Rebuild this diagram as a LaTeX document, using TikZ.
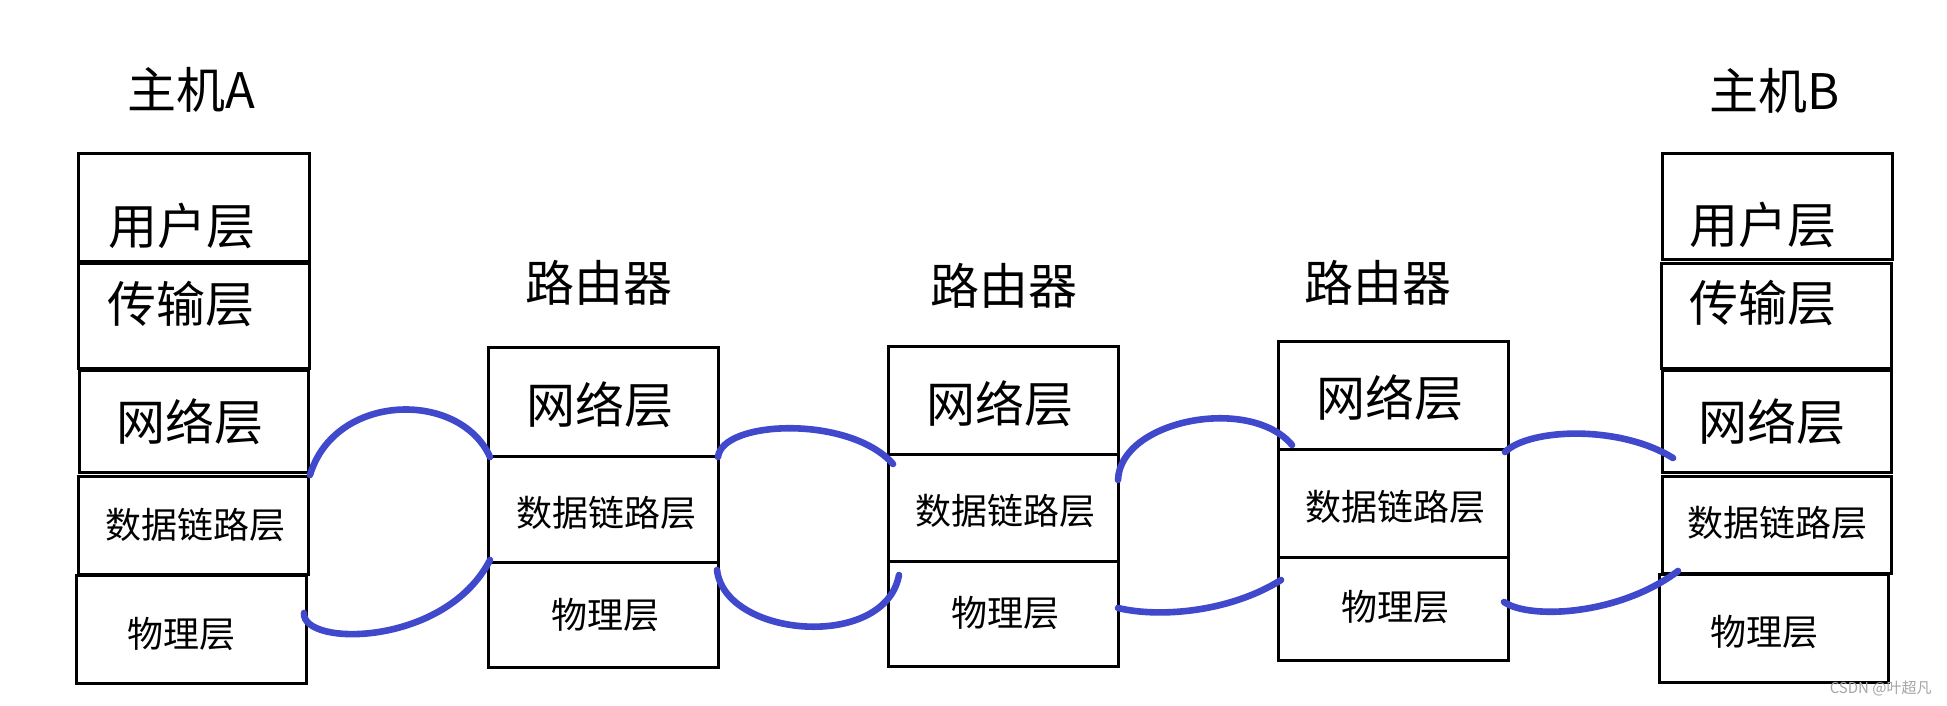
\documentclass[tikz,border=0pt]{standalone}
\usepackage{fontspec}
\newfontfamily\cjk{Noto Sans CJK SC}
\usetikzlibrary{fit,calc}
\definecolor{pen}{RGB}{64,72,204}
\definecolor{wmgray}{RGB}{165,165,165}
\tikzset{
  layer/.style={draw=black, line width=1.5pt, inner sep=0pt, outer sep=0pt},
  bigtxt/.style={font=\cjk\fontsize{24.5pt}{26pt}\selectfont, inner sep=0pt},
  smalltxt/.style={font=\cjk\fontsize{18pt}{20pt}\selectfont, inner sep=0pt},
  ttl/.style={font=\cjk\fontsize{24.5pt}{26pt}\selectfont, inner sep=0pt},
  wmark/.style={font=\cjk\fontsize{7.5pt}{9pt}\selectfont, text=wmgray, inner sep=0pt},
  link/.style={draw=pen, line width=3.3pt, line cap=round}
}
\begin{document}
\begin{tikzpicture}[x=0.5pt,y=-0.5pt]
\fill[white] (0,0) rectangle (1947,706);
\useasboundingbox (0,0) rectangle (1947,706);

% titles
\node[ttl] (tA) at (191.5,89.5) {主机A};
\node[ttl] (tB) at (1774.5,91) {主机B};
\node[ttl] (tR1) at (599,283) {路由器};
\node[ttl] (tR2) at (1004,286) {路由器};
\node[ttl] (tR3) at (1378,283) {路由器};

% host A
\node[layer, fit={(78,153) (309,261)}] (a1) {};
\node[layer, fit={(78,263) (309,368)}] (a2) {};
\node[layer, fit={(79,370) (308,472)}] (a3) {};
\node[layer, fit={(78,476) (308,574)}] (a4) {};
\node[layer, fit={(76,575) (306,683)}] (a5) {};
\node[bigtxt] (a1t) at (182,226) {用户层};
\node[bigtxt] (a2t) at (181,304) {传输层};
\node[bigtxt] (a3t) at (190,422) {网络层};
\node[smalltxt] (a4t) at (195,525) {数据链路层};
\node[smalltxt] (a5t) at (181,634) {物理层};

% router 1
\node[layer, fit={(488,347) (718,456)}] (r1n) {};
\node[layer, fit={(488,456) (718,562)}] (r1d) {};
\node[layer, fit={(488,562) (718,667)}] (r1p) {};
\node[bigtxt] (r1nt) at (600,405) {网络层};
\node[smalltxt] (r1dt) at (606,513) {数据链路层};
\node[smalltxt] (r1pt) at (605,615) {物理层};

% router 2
\node[layer, fit={(888,346) (1118,454)}] (r2n) {};
\node[layer, fit={(888,454) (1118,561)}] (r2d) {};
\node[layer, fit={(888,561) (1118,666)}] (r2p) {};
\node[bigtxt] (r2nt) at (1000,404) {网络层};
\node[smalltxt] (r2dt) at (1005,511) {数据链路层};
\node[smalltxt] (r2pt) at (1005,613) {物理层};

% router 3
\node[layer, fit={(1278,341) (1508,449)}] (r3n) {};
\node[layer, fit={(1278,449) (1508,557)}] (r3d) {};
\node[layer, fit={(1278,557) (1508,660)}] (r3p) {};
\node[bigtxt] (r3nt) at (1390,398) {网络层};
\node[smalltxt] (r3dt) at (1395,507) {数据链路层};
\node[smalltxt] (r3pt) at (1395,607) {物理层};

% host B
\node[layer, fit={(1662,153) (1892,259)}] (b1) {};
\node[layer, fit={(1661,263) (1891,368)}] (b2) {};
\node[layer, fit={(1662,370) (1891,472)}] (b3) {};
\node[layer, fit={(1662,476) (1891,573)}] (b4) {};
\node[layer, fit={(1659,574) (1888,682)}] (b5) {};
\node[bigtxt] (b1t) at (1763,225) {用户层};
\node[bigtxt] (b2t) at (1763,303) {传输层};
\node[bigtxt] (b3t) at (1772,422) {网络层};
\node[smalltxt] (b4t) at (1777,523) {数据链路层};
\node[smalltxt] (b5t) at (1764,632) {物理层};

% blue hand-drawn links
\draw[link] ($(a3.south east)+(2,3)$) .. controls +(25,-83) and +(-30,-67) .. ($(r1n.south west)+(2,1)$);
\draw[link] ($(a5.north east)+(-2,38)$) .. controls +(-2,34) and +(-45,87) .. ($(r1d.south west)+(2,-2)$);
\draw[link] ($(r1n.south east)+(0,1)$) .. controls +(4,-37) and +(-43,-49) .. ($(r2n.south west)+(5,10)$);
\draw[link] ($(r1p.north east)+(-1,8)$) .. controls +(8,68) and +(-14,76) .. ($(r2p.north west)+(11,14)$);
\draw[link] ($(r2d.north east)+(0,26)$) .. controls +(2,-60) and +(-42,-50) .. ($(r3n.south west)+(14,-4)$);
\draw[link] ($(r2p.north east)+(0,47)$) .. controls +(42,10) and +(-51,32) .. ($(r3p.north west)+(3,23)$);
\draw[link] ($(r3n.south east)+(-3,3)$) .. controls +(25,-24) and +(-53,-33) .. ($(b3.south west)+(11,-14)$);
\draw[link] ($(r3p.north east)+(-4,45)$) .. controls +(26,18) and +(-58,44) .. ($(b5.north west)+(19,-3)$);

% watermark
\node[wmark, anchor=east] (wm) at (1932,688) {CSDN @叶超凡};
\end{tikzpicture}
\end{document}
